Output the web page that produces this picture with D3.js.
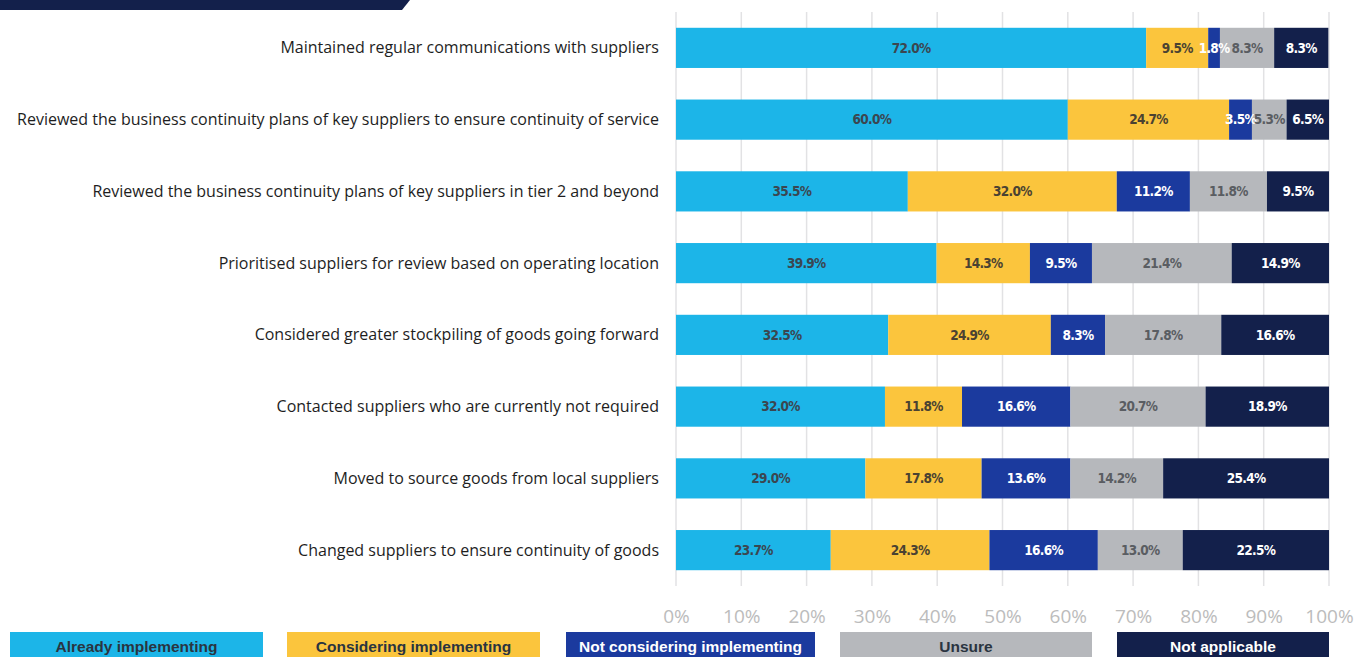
<!DOCTYPE html>
<html>
<head>
<meta charset="utf-8">
<script src="https://cdn.jsdelivr.net/npm/d3@7"></script>
<style>
  body { margin: 0; background: #fff; }
  svg { display: block; }
</style>
</head>
<body>
<svg id="chart" width="1359" height="657"></svg>
<script>
// categories, top to bottom
var categories = [
  "Maintained regular communications with suppliers",
  "Reviewed the business continuity plans of key suppliers to ensure continuity of service",
  "Reviewed the business continuity plans of key suppliers in tier 2 and beyond",
  "Prioritised suppliers for review based on operating location",
  "Considered greater stockpiling of goods going forward",
  "Contacted suppliers who are currently not required",
  "Moved to source goods from local suppliers",
  "Changed suppliers to ensure continuity of goods"
]

var seriesNames = ["Already implementing", "Considering implementing", "Not considering implementing", "Unsure", "Not applicable"]

var already     = [72.0, 60.0, 35.5, 39.9, 32.5, 32.0, 29.0, 23.7]
var considering = [9.5, 24.7, 32.0, 14.3, 24.9, 11.8, 17.8, 24.3]
var notConsider = [1.8, 3.5, 11.2, 9.5, 8.3, 16.6, 13.6, 16.6]
var unsure      = [8.3, 5.3, 11.8, 21.4, 17.8, 20.7, 14.2, 13.0]
var notApplic   = [8.3, 6.5, 9.5, 14.9, 16.6, 18.9, 25.4, 22.5]

var ticks = [0, 10, 20, 30, 40, 50, 60, 70, 80, 90, 100]

var colors = ["#1cb5e8", "#fbc53d", "#1b3a9e", "#b6b8bc", "#13204b"]
var labelColors = ["#3b4650", "#4a4232", "#ffffff", "#5a5d62", "#ffffff"]

var rows = categories.map(function(c, i) {
  return { name: c, values: [already[i], considering[i], notConsider[i], unsure[i], notApplic[i]] }
})

var svg = d3.select("#chart")

var x = d3.scaleLinear().domain([0, 100]).range([676, 1329])
var y = d3.scaleBand().domain(categories).range([12, 586]).paddingInner(0.44).paddingOuter(0.22)

// banner at the top left
svg.append("path")
  .attr("d", "M0,0 L410,0 L402,10 L0,10 Z")
  .attr("fill", "#13204b")

// grid
svg.append("g").selectAll("line")
  .data(ticks)
  .enter().append("line")
    .attr("x1", function(d) { return x(d) }).attr("x2", function(d) { return x(d) })
    .attr("y1", 12).attr("y2", 586)
    .attr("stroke", "#e2e2e4").attr("stroke-width", 1.5)

// x axis labels
var xAxis = d3.axisBottom(x).tickValues(ticks).tickSize(0).tickFormat(function(d) { return d + "%" })
var ax = svg.append("g").attr("transform", "translate(0,606)").call(xAxis)
ax.select(".domain").remove()
ax.selectAll("text")
  .attr("fill", "#bcbcbc")
  .style("font-family", "'Open Sans', sans-serif")
  .style("font-size", "19px")

// category labels
svg.append("g").selectAll("text")
  .data(categories)
  .enter().append("text")
    .attr("x", 659)
    .attr("y", function(d) { return y(d) + y.bandwidth() / 2 })
    .attr("dy", "0.35em")
    .attr("text-anchor", "end")
    .attr("fill", "#1e1e1e")
    .style("font-family", "'Open Sans', sans-serif")
    .style("font-size", "16px")
    .text(function(d) { return d })

// stacked segments
function stackRow(d) {
  var acc = 0
  return d.values.map(function(v, k) {
    var s = { k: k, v: v, x0: acc, x1: Math.min(acc + v, 100) }
    acc += v
    return s
  })
}

var rowG = svg.append("g").selectAll("g")
  .data(rows)
  .enter().append("g")
    .attr("transform", function(d) { return "translate(0," + y(d.name) + ")" })

rowG.selectAll("rect")
  .data(stackRow)
  .enter().append("rect")
    .attr("x", function(d) { return x(d.x0) })
    .attr("width", function(d) { return x(d.x1) - x(d.x0) })
    .attr("height", y.bandwidth())
    .attr("fill", function(d) { return colors[d.k] })

// labels go on top of every rect, so narrow ones spill over
var labelG = svg.append("g").selectAll("g")
  .data(rows)
  .enter().append("g")
    .attr("transform", function(d) { return "translate(0," + y(d.name) + ")" })

labelG.selectAll("text")
  .data(stackRow)
  .enter().append("text")
    .attr("x", function(d) { return (x(d.x0) + x(d.x1)) / 2 })
    .attr("y", y.bandwidth() / 2)
    .attr("dy", "0.35em")
    .attr("text-anchor", "middle")
    .attr("fill", function(d) { return labelColors[d.k] })
    .style("font-family", "'DejaVu Sans Condensed', sans-serif")
    .style("font-weight", "bold")
    .style("font-size", "13.5px")
    .style("letter-spacing", "-0.7px")
    .text(function(d) { return d.v.toFixed(1) + "%" })

// legend
var legendX = [10, 287, 566, 840, 1117]
var legendW = [253, 253, 249, 252, 212]
var lg = svg.append("g").selectAll("g")
  .data(seriesNames)
  .enter().append("g")
    .attr("transform", function(d, i) { return "translate(" + legendX[i] + ",632)" })

lg.append("rect")
  .attr("width", function(d, i) { return legendW[i] })
  .attr("height", 30)
  .attr("fill", function(d, i) { return colors[i] })

lg.append("text")
  .attr("x", function(d, i) { return legendW[i] / 2 })
  .attr("y", 20)
  .attr("text-anchor", "middle")
  .attr("fill", function(d, i) { return i == 0 || i == 1 || i == 3 ? "#2a3440" : "#ffffff" })
  .style("font-family", "'Liberation Sans', Arial, sans-serif")
  .style("font-weight", "bold")
  .style("font-size", "15.5px")
  .text(function(d) { return d })
</script>
</body>
</html>
